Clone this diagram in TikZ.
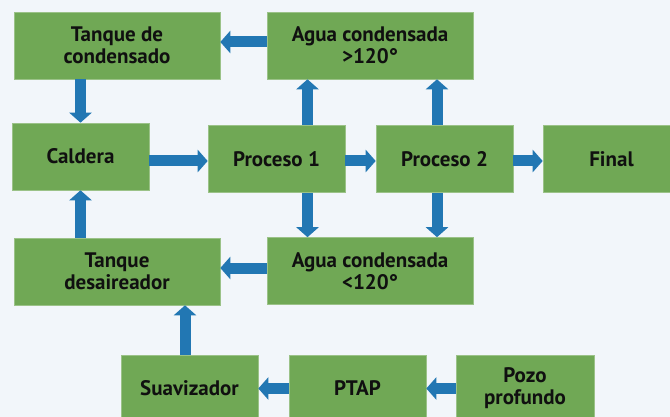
\documentclass[tikz,border=0pt]{standalone}
\usepackage{fontspec}
\setmainfont{PT Sans}
\usepackage{tikz}
\usetikzlibrary{arrows.meta}
\definecolor{bgpale}{HTML}{F2F6FA}
\definecolor{boxgreen}{HTML}{70A855}
\definecolor{flowblue}{HTML}{2277B3}
\definecolor{textdark}{HTML}{101010}
\tikzset{
  stage/.style={
    rectangle, fill=boxgreen, draw=boxgreen!70!white, line width=0.6pt,
    minimum width=137pt, minimum height=67pt, inner sep=0pt, align=center,
    font=\fontsize{21}{22}\selectfont\bfseries\color{textdark}
  },
  widestage/.style={stage, minimum width=206pt},
  flow/.style={-{Triangle[width=22pt, length=10pt]}, line width=11pt, color=flowblue},
}
\begin{document}
\begin{tikzpicture}[x=1pt, y=-1pt]

  % --- fondo ---
  \fill[bgpale] (0,0) rectangle (670,417);
  \useasboundingbox (0,0) rectangle (670,417);

  % --- fila superior ---
  \node[widestage] (tanqueC) at (117,45.5) {Tanque de\\condensado};
  \node[widestage] (agua1)   at (370,45.5) {Agua condensada\\>120°};

  % --- fila central ---
  \node[stage] (caldera) at (80.5,156.5) {Caldera};
  \node[stage] (proc1)   at (276.5,159)  {Proceso 1};
  \node[stage] (proc2)   at (444.5,159)  {Proceso 2};
  \node[stage] (final)   at (611.5,159)  {Final};

  % --- fila inferior ---
  \node[widestage] (tanqueD) at (117,271.5) {Tanque\\desaireador};
  \node[widestage] (agua2)   at (370,271)   {Agua condensada\\<120°};

  % --- tratamiento de agua ---
  \node[stage] (suav) at (189.5,388.5) {Suavizador};
  \node[stage] (ptap) at (357.5,388.5) {PTAP};
  \node[stage, minimum width=138pt] (pozo) at (525,388.5) {Pozo\\profundo};

  % --- flujo principal ---
  \draw[flow] ([yshift=-4.5pt]caldera.east) -- ([yshift=-2pt]proc1.west);
  \draw[flow] ([yshift=-2pt]proc1.east) -- ([yshift=-2pt]proc2.west);
  \draw[flow] ([yshift=-2pt]proc2.east) -- ([yshift=-2pt]final.west);

  % --- condensado ---
  \draw[flow] ([xshift=31pt]proc1.north) -- ([xshift=31pt]proc1.north |- agua1.south);
  \draw[flow] ([xshift=-7.5pt]proc2.north) -- ([xshift=-7.5pt]proc2.north |- agua1.south);
  \draw[flow] ([xshift=31pt]proc1.south) -- ([xshift=31pt]proc1.south |- agua2.north);
  \draw[flow] ([xshift=-7.5pt]proc2.south) -- ([xshift=-7.5pt]proc2.south |- agua2.north);
  \draw[flow] ([yshift=3.5pt]agua1.west) -- ([yshift=3.5pt]agua1.west -| tanqueC.east);
  \draw[flow] ([yshift=3pt]agua2.west) -- ([yshift=3pt]agua2.west -| tanqueD.east);

  % --- retorno a caldera ---
  \draw[flow] (tanqueC.south -| caldera) -- (caldera.north);
  \draw[flow] (tanqueD.north -| caldera) -- (caldera.south);

  % --- alimentacion ---
  \draw[flow] (pozo.west) -- (ptap.east);
  \draw[flow] (ptap.west) -- (suav.east);
  \draw[flow] ([xshift=-4.5pt]suav.north) -- ([xshift=-4.5pt]suav.north |- tanqueD.south);

\end{tikzpicture}
\end{document}
